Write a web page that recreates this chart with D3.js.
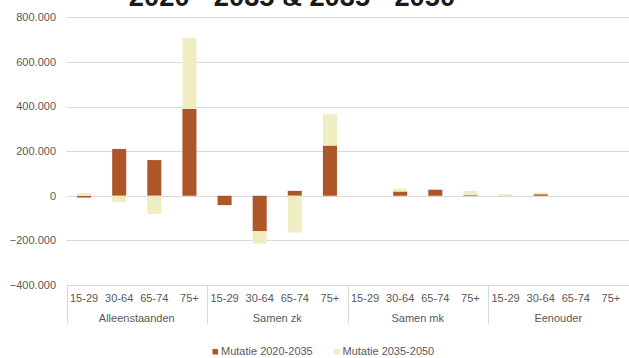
<!DOCTYPE html>
<html>
<head>
<meta charset="utf-8">
<script src="https://cdn.jsdelivr.net/npm/d3@7"></script>
<style>
  html, body { margin: 0; padding: 0; background: #fff; }
  svg { display: block; font-family: "Liberation Sans", Arial, sans-serif; }
</style>
</head>
<body>
<svg id="chart" width="629" height="358"></svg>
<script>
// Household groups and age bands
const groups = ["Alleenstaanden", "Samen zk", "Samen mk", "Eenouder"];
const ages = ["15-29", "30-64", "65-74", "75+"];

// Change per series, ordered by group then age band
const mutatie2020_2035 = [
  -8000, 210000, 160000, 389000,
  -42000, -159000, 22000, 225000,
  0, 19000, 27000, 3000,
  1000, 7000, 0, 0
];
const mutatie2035_2050 = [
  12000, -28000, -82000, 319000,
  0, -56000, -165000, 141000,
  0, 13000, 0, 19000,
  6000, 8000, 0, 0
];

const seriesNames = ["Mutatie 2020-2035", "Mutatie 2035-2050"];
const seriesColors = ["#ae5627", "#eeeec2"];
const yTicks = [-400000, -200000, 0, 200000, 400000, 600000, 800000];
const title = "2020 - 2035 & 2035 - 2050";

const rows = [];
groups.forEach((g, gi) => ages.forEach((a, ai) => {
  const i = gi * ages.length + ai;
  rows.push({ group: g, age: a, [seriesNames[0]]: mutatie2020_2035[i], [seriesNames[1]]: mutatie2035_2050[i] });
}));

const svg = d3.select("#chart");
const plotLeft = 66.5, plotRight = 628.5, plotTop = 17.3, plotBottom = 285;

const nl = d3.formatLocale({ decimal: ",", thousands: ".", grouping: [3], currency: ["€", ""] });
const fmt = nl.format(",.0f");

const y = d3.scaleLinear().domain([-400000, 800000]).range([plotBottom, plotTop]);
const xg = d3.scaleBand().domain(groups).range([plotLeft, plotRight]).padding(0);
const xa = d3.scaleBand().domain(ages).range([0, xg.bandwidth()]).paddingInner(0.6).paddingOuter(0.3);

// Title, partly above the visible area
svg.append("text")
  .attr("x", 292).attr("y", 5.5)
  .attr("text-anchor", "middle")
  .attr("font-size", 27.3).attr("font-weight", "bold")
  .attr("fill", "#1a1a1a")
  .text(title);

// Horizontal gridlines
svg.append("g").selectAll("line").data(yTicks).join("line")
  .attr("x1", plotLeft).attr("x2", 629)
  .attr("y1", d => Math.round(y(d)) + 0.5).attr("y2", d => Math.round(y(d)) + 0.5)
  .attr("stroke", "#d9d9d9").attr("stroke-width", 1);

// Value axis labels
svg.append("g").selectAll("text").data(yTicks).join("text")
  .attr("x", 56).attr("y", d => y(d))
  .attr("dy", "0.35em")
  .attr("text-anchor", "end")
  .attr("font-size", 11).attr("fill", "#595959")
  .text(d => fmt(d));

// Diverging stack so positives and negatives pile up from zero separately
const stack = d3.stack().keys(seriesNames).offset(d3.stackOffsetDiverging);
const stacked = stack(rows);

svg.append("g").selectAll("g").data(stacked).join("g")
  .attr("fill", (d, i) => seriesColors[i])
  .selectAll("rect").data(d => d).join("rect")
  .attr("x", d => xg(d.data.group) + xa(d.data.age))
  .attr("width", xa.bandwidth())
  .attr("y", d => y(Math.max(d[0], d[1])))
  .attr("height", d => Math.abs(y(d[0]) - y(d[1])));

// Category axis: separators between groups
const seps = groups.map(g => xg(g)).concat([plotRight]);
svg.append("g").selectAll("line").data(seps).join("line")
  .attr("x1", d => Math.round(d) + 0.5).attr("x2", d => Math.round(d) + 0.5)
  .attr("y1", plotBottom).attr("y2", 324)
  .attr("stroke", "#d9d9d9").attr("stroke-width", 1);

// Age band labels
svg.append("g").selectAll("text").data(rows).join("text")
  .attr("x", d => xg(d.group) + xa(d.age) + xa.bandwidth() / 2)
  .attr("y", 302)
  .attr("text-anchor", "middle")
  .attr("font-size", 11).attr("fill", "#595959")
  .text(d => d.age);

// Group labels
svg.append("g").selectAll("text").data(groups).join("text")
  .attr("x", d => xg(d) + xg.bandwidth() / 2)
  .attr("y", 321.5)
  .attr("text-anchor", "middle")
  .attr("font-size", 11).attr("fill", "#595959")
  .text(d => d);

// Legend
const legendX = [212.5, 334];
const lg = svg.append("g").selectAll("g").data(seriesNames).join("g")
  .attr("transform", (d, i) => `translate(${legendX[i]},349)`);
lg.append("rect").attr("width", 5.5).attr("height", 5.5).attr("fill", (d, i) => seriesColors[i]);
lg.append("text").attr("x", 8.5).attr("y", 6.3)
  .attr("font-size", 11).attr("fill", "#595959").text(d => d);
</script>
</body>
</html>
